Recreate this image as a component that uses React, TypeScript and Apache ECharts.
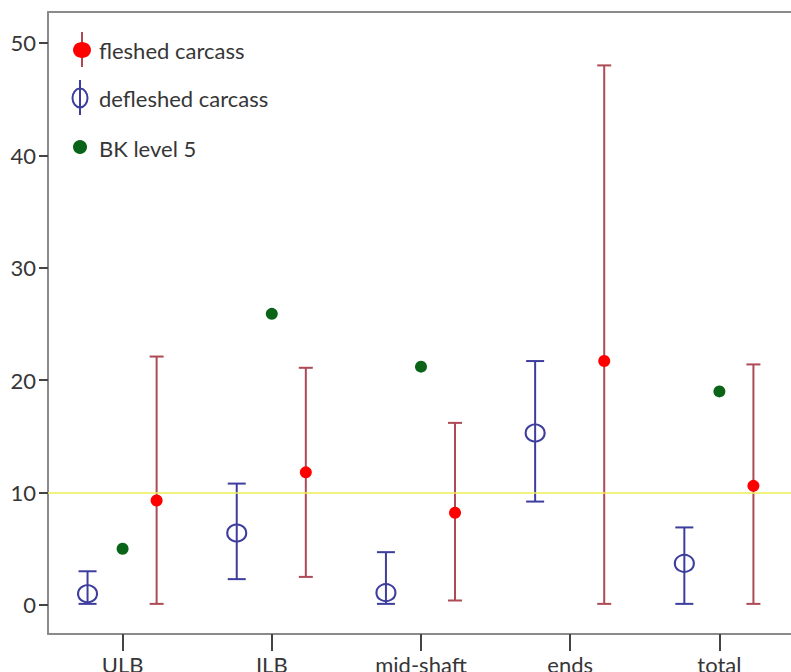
import React, { useEffect, useRef } from "react";
import * as echarts from "echarts";

// Bone portions on the x axis
const categories = ["ULB", "ILB", "mid-shaft", "ends", "total"];

// Fleshed carcass: mean with low/high range
const fleshedMean = [9.3, 11.8, 8.2, 21.7, 10.6];
const fleshedLow = [0.1, 2.5, 0.4, 0.1, 0.1];
const fleshedHigh = [22.1, 21.1, 16.2, 48.0, 21.4];

// Defleshed carcass: mean with low/high range
const defleshedMean = [1.0, 6.4, 1.1, 15.3, 3.7];
const defleshedLow = [0.1, 2.3, 0.1, 9.2, 0.1];
const defleshedHigh = [3.0, 10.8, 4.7, 21.7, 6.9];

// BK level 5 observed values (no value for "ends")
const bkLevel5: (number | null)[] = [5.0, 25.9, 21.2, null, 19.0];

const referenceLine = 10;
const yTicks = [0, 10, 20, 30, 40, 50];

const BLUE = "#3d3d9e";
const RED_BAR = "#ad4a55";
const RED_DOT = "#ff0000";
const GREEN = "#0a6417";
const AXIS = "#8a8a8a";
const TICK = "#444444";
const TEXT = "#363636";
const FONT = "Lato, 'Open Sans', sans-serif";
const FONT_SIZE = 22;

const BLUE_OFF = -0.235;
const RED_OFF = 0.228;

function errorBarItem(color: string, capHalf: number) {
  return (params: any, api: any) => {
    const x = api.value(0);
    const lo = api.coord([x, api.value(1)]);
    const hi = api.coord([x, api.value(2)]);
    const style = { stroke: color, lineWidth: 2 };
    return {
      type: "group",
      children: [
        { type: "line", shape: { x1: lo[0], y1: lo[1], x2: hi[0], y2: hi[1] }, style },
        { type: "line", shape: { x1: hi[0] - capHalf, y1: hi[1], x2: hi[0] + capHalf, y2: hi[1] }, style },
        { type: "line", shape: { x1: lo[0] - capHalf, y1: lo[1], x2: lo[0] + capHalf, y2: lo[1] }, style },
      ],
    };
  };
}

export default function App() {
  const ref = useRef<HTMLDivElement>(null);

  useEffect(() => {
    if (!ref.current) return;
    const chart = echarts.init(ref.current, undefined, { renderer: "svg" });
    const catIdx = categories.map((_, i) => i);
    const labelStyle = { fontSize: FONT_SIZE, fontFamily: FONT, color: TEXT };

    chart.setOption({
      animation: false,
      backgroundColor: "#ffffff",
      grid: {
        left: 48,
        top: 12,
        width: 746,
        height: 622,
        containLabel: false,
        outerBoundsMode: "none",
      },
      xAxis: [
        {
          type: "value",
          min: -0.5,
          max: 4.5,
          splitLine: { show: false },
          axisLine: { show: true, onZero: false, lineStyle: { color: AXIS, width: 2 } },
          axisTick: {
            show: true,
            customValues: catIdx,
            length: 17,
            lineStyle: { color: TICK, width: 2 },
          },
          axisLabel: {
            customValues: catIdx,
            formatter: (v: number) => categories[Math.round(v)] ?? "",
            margin: 19,
            ...labelStyle,
          },
        },
        {
          // top frame edge
          type: "value",
          position: "top",
          min: -0.5,
          max: 4.5,
          splitLine: { show: false },
          axisLine: { show: true, onZero: false, lineStyle: { color: AXIS, width: 2 } },
          axisTick: { show: false },
          axisLabel: { show: false },
        },
      ],
      yAxis: {
        type: "value",
        min: -2.58,
        max: 52.75,
        splitLine: { show: false },
        axisLine: { show: true, onZero: false, lineStyle: { color: AXIS, width: 2 } },
        axisTick: {
          show: true,
          customValues: yTicks,
          length: 9,
          lineStyle: { color: TICK, width: 2 },
        },
        axisLabel: {
          customValues: yTicks,
          margin: 12,
          ...labelStyle,
        },
      },
      series: [
        {
          type: "line",
          data: [],
          silent: true,
          markLine: {
            silent: true,
            symbol: "none",
            label: { show: false },
            lineStyle: { color: "#eeee55", width: 1.5, type: "solid" },
            data: [{ yAxis: referenceLine }],
          },
        },
        {
          name: "defleshed range",
          type: "custom",
          renderItem: errorBarItem(BLUE, 9),
          data: catIdx.map((i) => [i + BLUE_OFF, defleshedLow[i], defleshedHigh[i]]),
          z: 2,
        },
        {
          name: "fleshed range",
          type: "custom",
          renderItem: errorBarItem(RED_BAR, 7),
          data: catIdx.map((i) => [i + RED_OFF, fleshedLow[i], fleshedHigh[i]]),
          z: 2,
        },
        {
          name: "defleshed carcass",
          type: "scatter",
          symbol: "circle",
          symbolSize: [19, 17],
          itemStyle: { color: "rgba(0,0,0,0)", borderColor: BLUE, borderWidth: 2, opacity: 1 },
          data: catIdx.map((i) => [i + BLUE_OFF, defleshedMean[i]]),
          z: 3,
        },
        {
          name: "fleshed carcass",
          type: "scatter",
          symbol: "circle",
          symbolSize: 12,
          itemStyle: { color: RED_DOT, opacity: 1 },
          data: catIdx.map((i) => [i + RED_OFF, fleshedMean[i]]),
          z: 3,
        },
        {
          name: "BK level 5",
          type: "scatter",
          symbol: "circle",
          symbolSize: 12,
          itemStyle: { color: GREEN, opacity: 1 },
          data: catIdx
            .filter((i) => bkLevel5[i] !== null)
            .map((i) => [i, bkLevel5[i] as number]),
          z: 3,
        },
      ],
      graphic: [
        // legend entries
        { type: "line", shape: { x1: 82, y1: 32, x2: 82, y2: 67 }, style: { stroke: RED_BAR, lineWidth: 2 } },
        { type: "ellipse", shape: { cx: 82, cy: 50, rx: 9, ry: 8 }, style: { fill: RED_DOT } },
        { type: "text", x: 99, y: 50, style: { text: "fleshed carcass", fill: TEXT, font: `${FONT_SIZE}px ${FONT}`, verticalAlign: "middle" } },
        { type: "line", shape: { x1: 80, y1: 80, x2: 80, y2: 115 }, style: { stroke: BLUE, lineWidth: 2 } },
        { type: "ellipse", shape: { cx: 80, cy: 98, rx: 7.5, ry: 9.5 }, style: { fill: "none", stroke: BLUE, lineWidth: 2 } },
        { type: "text", x: 99, y: 98, style: { text: "defleshed carcass", fill: TEXT, font: `${FONT_SIZE}px ${FONT}`, verticalAlign: "middle" } },
        { type: "circle", shape: { cx: 80, cy: 147, r: 7 }, style: { fill: GREEN } },
        { type: "text", x: 99, y: 148, style: { text: "BK level 5", fill: TEXT, font: `${FONT_SIZE}px ${FONT}`, verticalAlign: "middle" } },
      ],
    });

    return () => chart.dispose();
  }, []);

  return (
    <div
      ref={ref}
      style={{ position: "absolute", left: 0, top: 0, width: 791, height: 672 }}
    />
  );
}
